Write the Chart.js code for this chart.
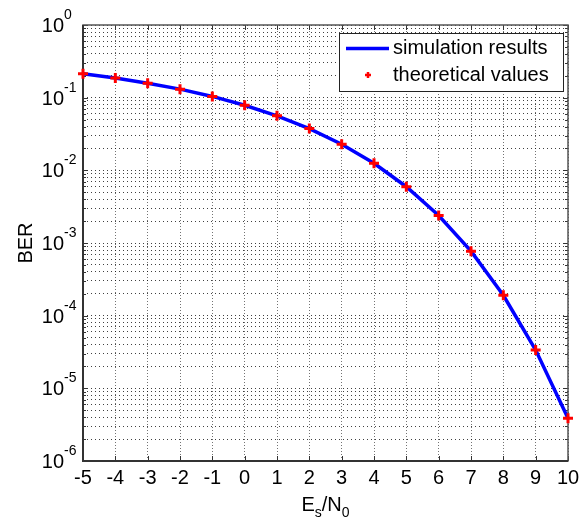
<!DOCTYPE html>
<html>
<head>
<meta charset="utf-8">
<script src="https://cdn.jsdelivr.net/npm/chart.js@4.4.0/dist/chart.umd.min.js"></script>
<style>
  html, body { margin: 0; padding: 0; background: #fff; }
  canvas { display: block; }
</style>
</head>
<body>
<canvas id="ber_chart" width="587" height="520"></canvas>
<script>
// Es/N0 in dB
const esN0 = [-5, -4, -3, -2, -1, 0, 1, 2, 3, 4, 5, 6, 7, 8, 9, 10]
const simBer = [0.213, 0.186, 0.158, 0.131, 0.104, 0.0786, 0.0563, 0.0375, 0.0229, 0.0125, 0.00595, 0.00239, 7.73e-4, 1.91e-4, 3.36e-5, 3.87e-6]
const theoryBer = [0.213, 0.186, 0.158, 0.131, 0.104, 0.0786, 0.0563, 0.0375, 0.0229, 0.0125, 0.00595, 0.00239, 7.73e-4, 1.91e-4, 3.36e-5, 3.87e-6]
const xTicks = [-5, -4, -3, -2, -1, 0, 1, 2, 3, 4, 5, 6, 7, 8, 9, 10]
const yDecades = [-6, -5, -4, -3, -2, -1, 0]
const seriesNames = ['simulation results', 'theoretical values']

const FONT = '"Liberation Sans", Arial, Helvetica, sans-serif'
const LINE_BLUE = '#0000ff'
const MARK_RED = '#ff0000'

const isDecade = (v) => Math.abs(Math.log10(v) - Math.round(Math.log10(v))) < 1e-9

// every 1..9 x 10^k between the decades, used for the log grid
function logGridValues() {
	const vals = []
	yDecades.slice(0, -1).forEach(d => {
		for (let m = 1; m < 10; m++) vals.push(m * Math.pow(10, d))
	})
	vals.push(Math.pow(10, yDecades[yDecades.length - 1]))
	return vals
}

const axesDecor = {
	id: 'axesDecor',
	beforeDatasetsDraw(chart) {
		const {ctx, chartArea: a, scales: {x, y}} = chart
		ctx.save()
		ctx.strokeStyle = '#333'
		ctx.lineWidth = 1
		ctx.beginPath()
		xTicks.forEach(v => {
			const px = Math.round(x.getPixelForValue(v)) + 0.5
			ctx.moveTo(px, a.bottom); ctx.lineTo(px, a.bottom - 5)
			ctx.moveTo(px, a.top); ctx.lineTo(px, a.top + 5)
		})
		y.ticks.forEach(t => {
			const py = Math.round(y.getPixelForValue(t.value)) + 0.5
			const len = isDecade(t.value) ? 5 : 3
			ctx.moveTo(a.left, py); ctx.lineTo(a.left + len, py)
			ctx.moveTo(a.right, py); ctx.lineTo(a.right - len, py)
		})
		ctx.stroke()

		// axes box
		ctx.strokeStyle = '#555'
		ctx.lineWidth = 1.5
		ctx.strokeRect(a.left, a.top, a.width, a.height)
		ctx.strokeStyle = '#333'
		ctx.lineWidth = 2
		ctx.beginPath()
		ctx.moveTo(a.left, a.top); ctx.lineTo(a.left, a.bottom); ctx.lineTo(a.right, a.bottom)
		ctx.stroke()
		ctx.restore()
	},
	afterDraw(chart) {
		const {ctx, chartArea: a, scales: {x, y}} = chart
		ctx.save()
		ctx.fillStyle = '#000'

		// x tick labels
		ctx.font = '20px ' + FONT
		ctx.textAlign = 'center'
		ctx.textBaseline = 'alphabetic'
		xTicks.forEach(v => ctx.fillText(String(v), x.getPixelForValue(v), a.bottom + 23))

		// y tick labels as 10^k
		yDecades.forEach(d => {
			const py = y.getPixelForValue(Math.pow(10, d))
			ctx.font = '20px ' + FONT
			ctx.textAlign = 'right'
			ctx.fillText('10', a.left - 19, py + 7)
			ctx.font = '14px ' + FONT
			ctx.textAlign = 'left'
			ctx.fillText(String(d), a.left - 19, py - 6)
		})

		// y title
		ctx.save()
		ctx.translate(32, (a.top + a.bottom) / 2)
		ctx.rotate(-Math.PI / 2)
		ctx.font = '20px ' + FONT
		ctx.textAlign = 'center'
		ctx.fillText('BER', 0, 0)
		ctx.restore()

		// x title E_s/N_0
		const parts = [['E', 20, 0], ['s', 14, 6], ['/', 20, 0], ['N', 20, 0], ['0', 14, 6]]
		let total = 0
		parts.forEach(p => { ctx.font = p[1] + 'px ' + FONT; total += ctx.measureText(p[0]).width })
		let cx = (a.left + a.right) / 2 - total / 2
		ctx.textAlign = 'left'
		parts.forEach(p => {
			ctx.font = p[1] + 'px ' + FONT
			ctx.fillText(p[0], cx, a.bottom + 50 + p[2])
			cx += ctx.measureText(p[0]).width
		})

		// legend
		const lw = 224, lh = 58
		const lx = a.right - 5 - lw, ly = a.top + 8
		ctx.fillStyle = '#fff'
		ctx.fillRect(lx, ly, lw, lh)
		ctx.strokeStyle = '#222'
		ctx.lineWidth = 1
		ctx.strokeRect(lx + 0.5, ly + 0.5, lw, lh)

		const row1 = ly + 15.5, row2 = ly + 42
		ctx.strokeStyle = LINE_BLUE
		ctx.lineWidth = 3.5
		ctx.beginPath()
		ctx.moveTo(lx + 7, row1); ctx.lineTo(lx + 50, row1)
		ctx.stroke()

		ctx.strokeStyle = MARK_RED
		ctx.lineWidth = 2.5
		ctx.beginPath()
		ctx.moveTo(lx + 29 - 3, row2); ctx.lineTo(lx + 29 + 3, row2)
		ctx.moveTo(lx + 29, row2 - 3); ctx.lineTo(lx + 29, row2 + 3)
		ctx.stroke()

		ctx.fillStyle = '#000'
		ctx.font = '20px ' + FONT
		ctx.textAlign = 'left'
		ctx.textBaseline = 'middle'
		ctx.fillText(seriesNames[0], lx + 54, row1)
		ctx.fillText(seriesNames[1], lx + 54, row2)
		ctx.restore()
	}
}

const berChart = new Chart(document.getElementById('ber_chart').getContext('2d'), {
	type: 'line',
	data: {
		datasets: [{
			label: seriesNames[1],
			data: esN0.map((v, i) => ({x: v, y: theoryBer[i]})),
			showLine: false,
			pointStyle: 'cross',
			pointRadius: 5,
			pointBorderWidth: 3,
			pointBorderColor: MARK_RED,
			pointBackgroundColor: MARK_RED,
			clip: false,
			order: 0
		}, {
			label: seriesNames[0],
			data: esN0.map((v, i) => ({x: v, y: simBer[i]})),
			borderColor: LINE_BLUE,
			borderWidth: 3.5,
			pointRadius: 0,
			tension: 0,
			clip: false,
			order: 1
		}]
	},
	options: {
		responsive: false,
		animation: false,
		layout: { padding: { left: 83, top: 25, right: 19, bottom: 59 } },
		plugins: { legend: { display: false }, tooltip: { enabled: false } },
		scales: {
			x: {
				type: 'linear',
				min: -5,
				max: 10,
				ticks: { display: false, stepSize: 1 },
				grid: { color: 'rgba(0,0,0,0.55)', lineWidth: 1, drawTicks: false },
				border: { display: false, dash: [1, 2] }
			},
			y: {
				type: 'logarithmic',
				min: 1e-6,
				max: 1,
				afterBuildTicks: (scale) => { scale.ticks = logGridValues().map(v => ({value: v})) },
				ticks: { display: false },
				grid: { color: 'rgba(0,0,0,0.75)', lineWidth: 1, drawTicks: false },
				border: { display: false, dash: [1, 3] }
			}
		}
	},
	plugins: [axesDecor]
})
</script>
</body>
</html>
